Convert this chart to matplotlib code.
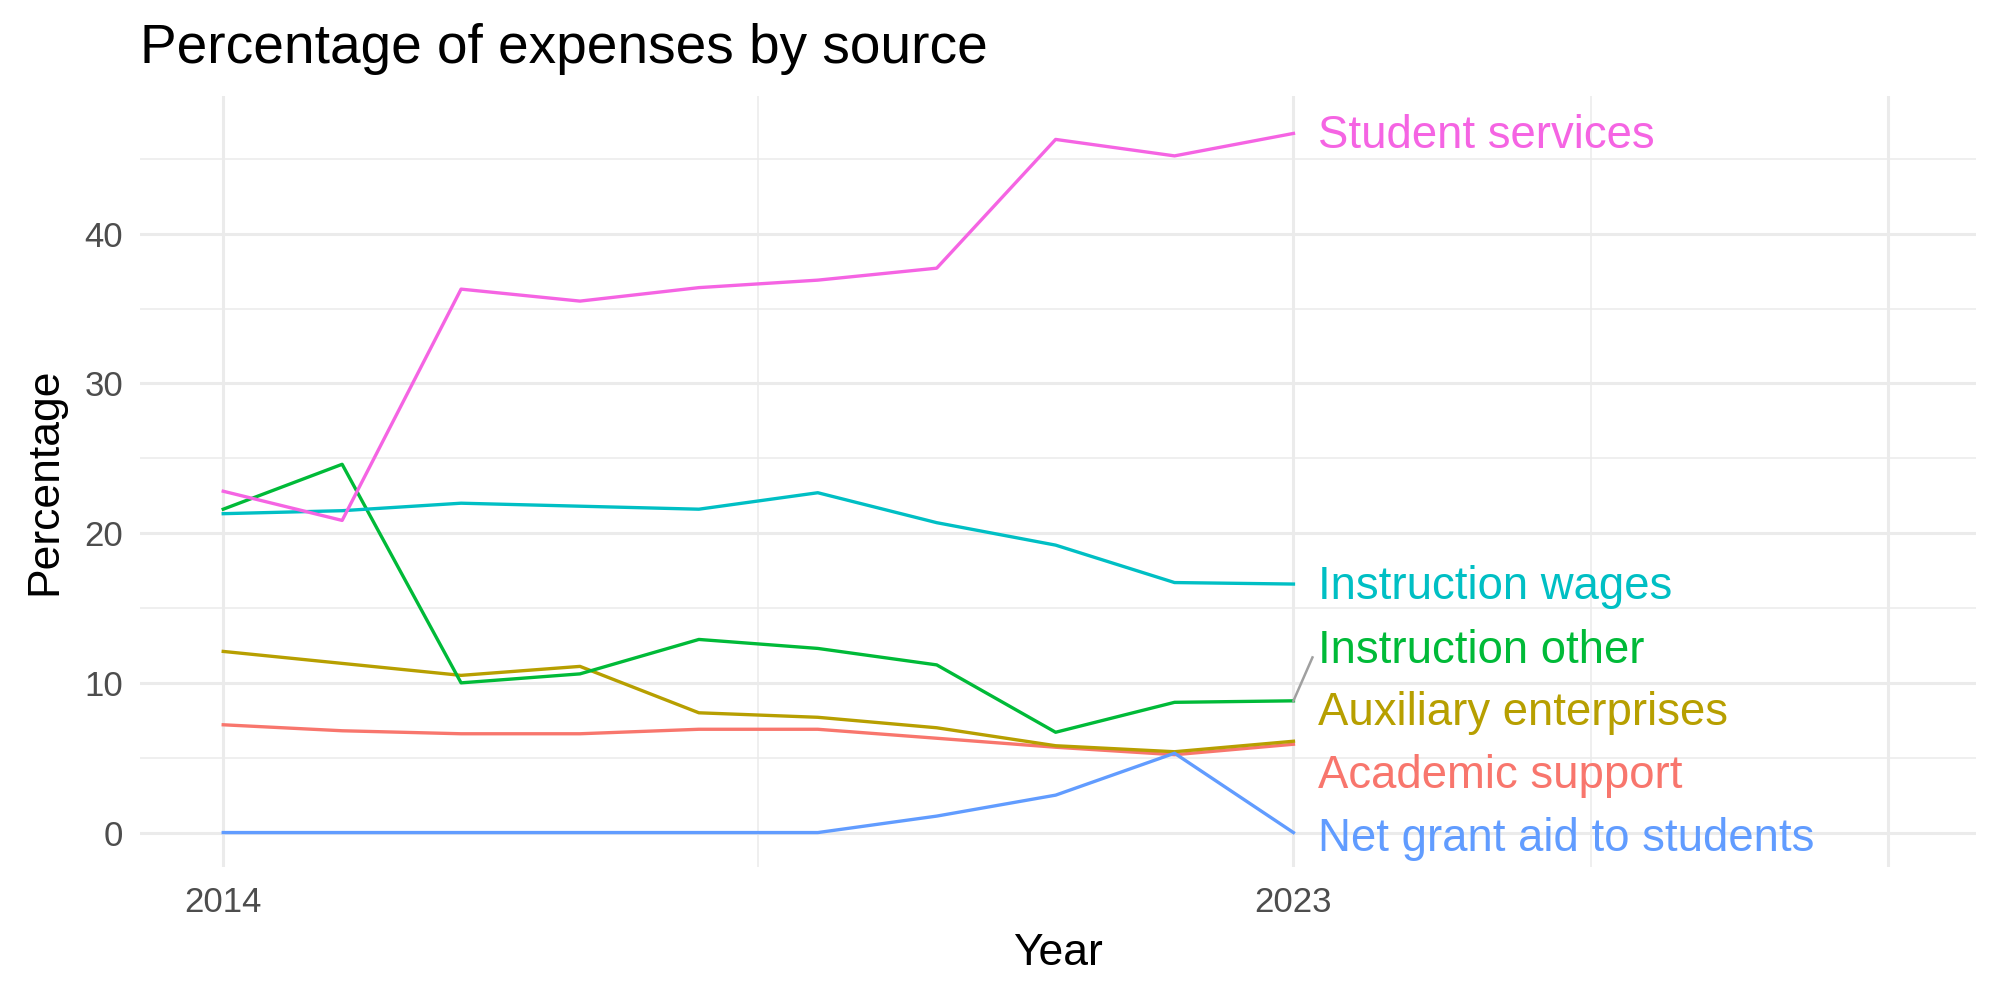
import matplotlib.pyplot as plt

plt.rcParams['font.family'] = ['Liberation Sans', 'DejaVu Sans']

years = [2014, 2015, 2016, 2017, 2018, 2019, 2020, 2021, 2022, 2023]

student_services = [22.8, 20.85, 36.3, 35.5, 36.4, 36.9, 37.7, 46.3, 45.2, 46.7]
instruction_wages = [21.3, 21.5, 22.0, 21.8, 21.6, 22.7, 20.7, 19.2, 16.7, 16.6]
instruction_other = [21.6, 24.6, 10.0, 10.6, 12.9, 12.3, 11.2, 6.7, 8.7, 8.8]
auxiliary = [12.1, 11.3, 10.5, 11.1, 8.0, 7.7, 7.0, 5.8, 5.4, 6.1]
academic = [7.2, 6.8, 6.6, 6.6, 6.9, 6.9, 6.3, 5.7, 5.2, 5.9]
net_grant = [0, 0, 0, 0, 0, 0, 1.1, 2.5, 5.3, 0]

series = [
    ("Academic support", academic, "#F8766D", 3.8),
    ("Auxiliary enterprises", auxiliary, "#B79F00", 8.0),
    ("Instruction other", instruction_other, "#00BA38", 12.1),
    ("Instruction wages", instruction_wages, "#00BFC4", 16.4),
    ("Net grant aid to students", net_grant, "#619CFF", -0.4),
    ("Student services", student_services, "#F564E3", 46.5),
]

fig = plt.figure(figsize=(10, 5), dpi=200)
ax = fig.add_axes([0.07, 0.133, 0.918, 0.771])

ax.set_xlim(2013.3, 2028.74)
ax.set_ylim(-2.3, 49.2)

# grid like theme_minimal
for x in [2014, 2023, 2028]:
    ax.axvline(x, color="#EBEBEB", lw=1.1, zorder=0)
for x in [2018.5, 2025.5]:
    ax.axvline(x, color="#EBEBEB", lw=0.55, zorder=0)
for y in [0, 10, 20, 30, 40]:
    ax.axhline(y, color="#EBEBEB", lw=1.1, zorder=0)
for y in [5, 15, 25, 35, 45]:
    ax.axhline(y, color="#EBEBEB", lw=0.55, zorder=0)

for name, vals, col, ylab in series:
    ax.plot(years, vals, color=col, lw=1.2, zorder=2)
    ax.text(2023.21, ylab, name, color=col, fontsize=16.4, va="center", ha="left", zorder=3)

# repel segment for Instruction other
ax.plot([2023.0, 2023.16], [instruction_other[-1], 11.7], color="#A0A0A0", lw=0.9, zorder=2)

ax.set_xticks([2014, 2023])
ax.set_yticks([0, 10, 20, 30, 40])
ax.tick_params(axis="x", length=0, labelsize=12.5, labelcolor="#4D4D4D", pad=7)
ax.tick_params(axis="y", length=0, labelsize=12.5, labelcolor="#4D4D4D", pad=6)
for s in ax.spines.values():
    s.set_visible(False)

ax.set_xlabel("Year", fontsize=16, labelpad=5)
ax.set_ylabel("Percentage", fontsize=16, labelpad=7)
ax.set_title("Percentage of expenses by source", fontsize=19.8, loc="left", x=-0.0, pad=12)

fig.savefig("out.png", dpi=200)
